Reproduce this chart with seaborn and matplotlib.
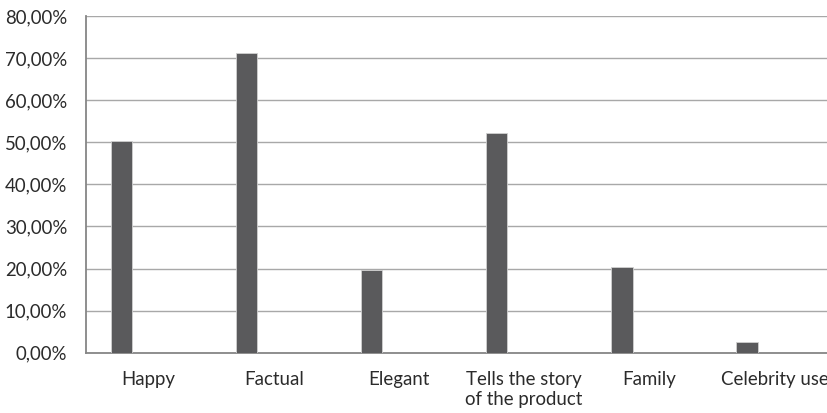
import matplotlib
matplotlib.use("Agg")
import matplotlib.pyplot as plt
import seaborn as sns
import pandas as pd
import numpy as np

categories = ["Happy", "Factual", "Elegant", "Tells the story\nof the product", "Family", "Celebrity use"]
shares = [50.2, 71.3, 19.6, 52.2, 20.3, 2.6]
y_ticks = [0, 10, 20, 30, 40, 50, 60, 70, 80]
y_tick_labels = ["0,00%", "10,00%", "20,00%", "30,00%", "40,00%", "50,00%", "60,00%", "70,00%", "80,00%"]

sns.set_theme(style="white")
plt.rcParams["font.family"] = ["Lato", "DejaVu Sans"]

df = pd.DataFrame({"category": categories, "share": shares})

fig = plt.figure(figsize=(8.28, 4.13), dpi=100)
ax = fig.add_axes([86 / 828, 1 - 352.7 / 413, 751 / 828, (352.7 - 16) / 413])

sns.barplot(data=df, x="category", y="share", color="#5a5a5c", saturation=1,
            width=0.17, edgecolor="#d0d0d0", linewidth=0.6, ax=ax, zorder=3)

# bars sit toward the left of each category slot
for p in ax.patches:
    p.set_x(p.get_x() - 0.218)

ax.set_xlim(-0.5, 5.5)
ax.set_ylim(0, 80)
ax.set_yticks(y_ticks)
ax.set_yticklabels(y_tick_labels)
ax.yaxis.grid(True, color="#a8a8a8", linewidth=1.0, zorder=0)
ax.set_axisbelow(True)
ax.set_xlabel("")
ax.set_ylabel("")

for side in ["top", "right"]:
    ax.spines[side].set_visible(False)
for side in ["left", "bottom"]:
    ax.spines[side].set_color("#868686")
    ax.spines[side].set_linewidth(1.3)

ax.tick_params(axis="both", length=0, labelsize=13.4, colors="#2b2b2b")
ax.tick_params(axis="y", pad=13.5)
ax.tick_params(axis="x", pad=13)
for lab in ax.get_xticklabels():
    lab.set_linespacing(1.25)

fig.savefig("out.png", dpi=100)
